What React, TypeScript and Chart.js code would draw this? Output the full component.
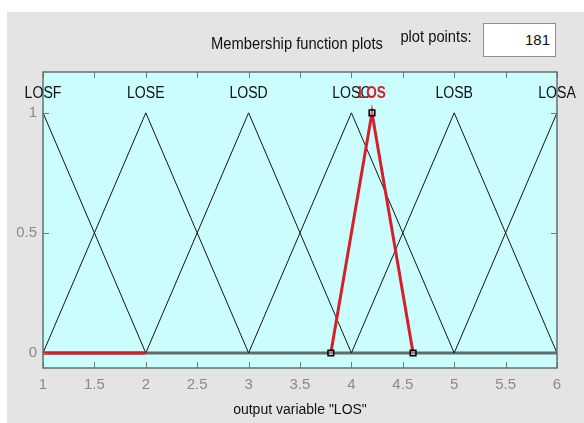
import React, { useEffect, useRef } from "react";
import { Chart, registerables } from "chart.js";

Chart.register(...registerables);

// ---- data ----
const mfNames = ["LOSF", "LOSE", "LOSD", "LOSC", "LOSB", "LOSA"];
const mfLeft = [0, 1, 2, 3, 4, 5];
const mfPeak = [1, 2, 3, 4, 5, 6];
const mfRight = [2, 3, 4, 5, 6, 7];
const selName = "LOS";
const selX = [3.8, 4.2, 4.6];
const selY = [0, 1, 0];
const redZeroX = [1, 2];
const grayZeroX = [2, 6];
const yTickValues = [0, 0.5, 1];
const xMin = 1;
const xMax = 6;
const yMin = -0.0625;
const yMax = 1.17;
const labelY = 1.08;

const FONT = '"Liberation Sans", Arial, sans-serif';

function condensedText(ctx: any, text: string, x: number, y: number, sx: number) {
  ctx.save();
  ctx.translate(x, y);
  ctx.scale(sx, 1);
  ctx.fillText(text, 0, 0);
  ctx.restore();
}

const framePlugin = {
  id: "frame",
  beforeDraw(chart: any) {
    const ctx = chart.ctx;
    ctx.save();
    ctx.fillStyle = "#ffffff";
    ctx.fillRect(0, 0, chart.width, chart.height);
    ctx.fillStyle = "#e4e4e4";
    ctx.fillRect(7, 12, chart.width - 7, chart.height - 12);
    ctx.restore();
  },
  beforeDatasetsDraw(chart: any) {
    const { ctx, chartArea: a } = chart;
    ctx.save();
    ctx.fillStyle = "#ccfdfd";
    ctx.fillRect(a.left, a.top, a.right - a.left, a.bottom - a.top);
    ctx.restore();
  },
  afterDatasetsDraw(chart: any) {
    const { ctx, chartArea: a, scales } = chart;
    const xs = scales.x;
    const ys = scales.y;
    ctx.save();
    ctx.strokeStyle = "#6a7a7b";
    ctx.lineWidth = 1;
    ctx.beginPath();
    xs.ticks.forEach((t: any) => {
      const px = Math.round(xs.getPixelForValue(t.value)) + 0.5;
      ctx.moveTo(px, a.bottom);
      ctx.lineTo(px, a.bottom - 6);
      ctx.moveTo(px, a.top);
      ctx.lineTo(px, a.top + 6);
    });
    ys.ticks.forEach((t: any) => {
      const py = Math.round(ys.getPixelForValue(t.value)) + 0.5;
      ctx.moveTo(a.left, py);
      ctx.lineTo(a.left + 6, py);
      ctx.moveTo(a.right, py);
      ctx.lineTo(a.right - 6, py);
    });
    ctx.stroke();
    ctx.strokeStyle = "#5d7173";
    ctx.lineWidth = 1.5;
    ctx.strokeRect(a.left, a.top, a.right - a.left, a.bottom - a.top);
    ctx.textAlign = "center";
    ctx.textBaseline = "middle";
    ctx.fillStyle = "#111111";
    ctx.font = `16px ${FONT}`;
    mfNames.forEach((n, i) => {
      condensedText(ctx, n, xs.getPixelForValue(mfPeak[i]), ys.getPixelForValue(labelY), 0.88);
    });
    ctx.fillStyle = "#d4202c";
    ctx.font = `bold 16px ${FONT}`;
    condensedText(ctx, selName, xs.getPixelForValue(selX[1]), ys.getPixelForValue(labelY), 0.85);
    ctx.restore();
  },
};

const textStyle: any = {
  position: "absolute",
  fontFamily: FONT,
  fontSize: 16,
  color: "#111",
  lineHeight: "18px",
  whiteSpace: "nowrap",
  transform: "scaleX(0.92)",
};

export default function App() {
  const ref = useRef<HTMLCanvasElement | null>(null);
  useEffect(() => {
    if (!ref.current) return;
    const mfSets = mfNames.map((n, i) => ({
      label: n,
      data: [
        { x: mfLeft[i], y: 0 },
        { x: mfPeak[i], y: 1 },
        { x: mfRight[i], y: 0 },
      ],
      showLine: true,
      borderColor: "#151515",
      borderWidth: 1,
      pointRadius: 0,
      order: 3,
    }));
    const chart = new Chart(ref.current, {
      type: "scatter",
      data: {
        datasets: [
          {
            label: "zero",
            data: grayZeroX.map((x) => ({ x, y: 0 })),
            showLine: true,
            borderColor: "#5e6c6d",
            borderWidth: 3,
            pointRadius: 0,
            order: 4,
          },
          ...mfSets,
          {
            label: "redzero",
            data: redZeroX.map((x) => ({ x, y: 0 })),
            showLine: true,
            borderColor: "#c8202a",
            borderWidth: 3.5,
            pointRadius: 0,
            order: 2,
          },
          {
            label: selName,
            data: selX.map((x, i) => ({ x, y: selY[i] })),
            showLine: true,
            borderColor: "#d4202c",
            borderWidth: 3,
            pointStyle: "rect",
            pointRadius: 4,
            pointBorderColor: "#000000",
            pointBackgroundColor: "rgba(255,255,255,0.3)",
            pointBorderWidth: 1.5,
            order: 1,
          },
        ],
      },
      options: {
        animation: false,
        responsive: false,
        maintainAspectRatio: false,
        events: [],
        layout: { padding: { top: 72, right: 27, left: 0, bottom: 0 } },
        plugins: { legend: { display: false }, tooltip: { enabled: false } },
        scales: {
          x: {
            type: "linear",
            min: xMin,
            max: xMax,
            ticks: {
              stepSize: 0.5,
              color: "#8a8a8a",
              font: { family: FONT, size: 15 },
              padding: 8,
              maxRotation: 0,
              autoSkip: false,
              callback: (v: any) => String(v),
            },
            grid: { display: false, drawTicks: false },
            border: { display: false },
            title: {
              display: true,
              text: 'output variable "LOS"',
              color: "#111111",
              font: { family: FONT, size: 14 },
              padding: { top: 0, bottom: 4 },
            },
            afterFit: (s: any) => {
              s.height = 55;
            },
          },
          y: {
            type: "linear",
            min: yMin,
            max: yMax,
            afterBuildTicks: (s: any) => {
              s.ticks = yTickValues.map((v) => ({ value: v }));
            },
            ticks: {
              color: "#8a8a8a",
              font: { family: FONT, size: 15 },
              padding: 6,
              callback: (v: any) => String(v),
            },
            grid: { display: false, drawTicks: false },
            border: { display: false },
            afterFit: (s: any) => {
              s.width = 43;
            },
          },
        },
      },
      plugins: [framePlugin],
    } as any);
    return () => chart.destroy();
  }, []);

  return (
    <div style={{ position: "fixed", left: 0, top: 0, width: 584, height: 423, overflow: "hidden" }}>
      <canvas ref={ref} width={584} height={423} style={{ position: "absolute", left: 0, top: 0 }} />
      <div style={{ ...textStyle, left: 197, top: 35, width: 200, textAlign: "center" }}>
        Membership function plots
      </div>
      <div style={{ ...textStyle, left: 391, top: 28, width: 90, textAlign: "center" }}>
        plot points:
      </div>
      <div
        style={{
          position: "absolute",
          left: 483,
          top: 23,
          width: 73,
          height: 34,
          boxSizing: "border-box",
          background: "#ffffff",
          border: "1px solid #8a9090",
          textAlign: "right",
          paddingRight: 5,
          fontFamily: FONT,
          fontSize: 15,
          color: "#111",
          lineHeight: "32px",
        }}
      >
        181
      </div>
    </div>
  );
}
